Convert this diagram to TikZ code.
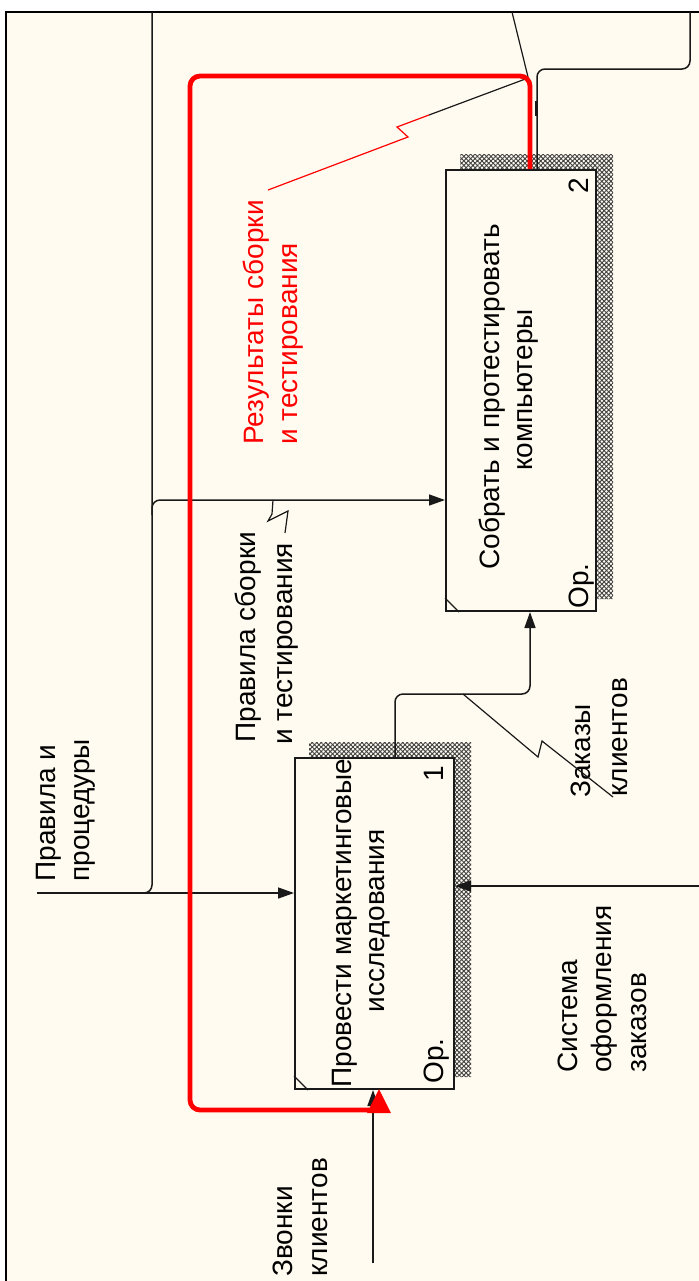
\documentclass[tikz,border=0pt]{standalone}
\usepackage{fontspec}
\setmainfont{Liberation Sans}
\usetikzlibrary{arrows.meta,patterns.meta,calc}
\definecolor{paper}{RGB}{255,251,240}
\definecolor{ink}{RGB}{25,25,25}
\tikzset{
  lbltext/.style={rotate=90, inner sep=0pt, font=\fontsize{14}{16}\selectfont},
  actbox/.style={draw=ink, line width=1pt, fill=paper, inner sep=0pt},
  shadowfill/.style={pattern={Hatch[angle=45,distance=1.6pt,line width=0.45pt]}, pattern color=black!75},
  flow/.style={draw=ink, line width=0.75pt, rounded corners=4pt},
  flowtip/.style={flow, -{Triangle[length=8pt,width=5.5pt]}},
  feedback/.style={draw=red, line width=2.4pt, rounded corners=5pt},
  leader/.style={draw=ink, line width=0.6pt},
  redleader/.style={draw=red, line width=0.6pt}
}
\begin{document}
\begin{tikzpicture}[x=0.5pt,y=-0.5pt]
\useasboundingbox (0,0) rectangle (699,1281);
\fill[white] (0,0) rectangle (699,1281);
\fill[paper] (6,12) rectangle (699,1281);
\draw[black, line width=1.4pt] (6,1281) -- (6,12) -- (699,12);

% activity boxes
\node[actbox, minimum width=79.5pt, minimum height=165.5pt] (box1) at (374.5,923.5) {};
\node[actbox, minimum width=75pt, minimum height=220.5pt] (box2) at (521,390.5) {};

% hatched shadows
\foreach \b in {box1,box2}{
  \fill[shadowfill] ($(\b.north west)+(15,-15)$) -- ($(\b.north east)+(16,-15)$)
    -- ($(\b.south east)+(16,-13)$) -- ($(\b.south east)+(0,-13)$)
    -- (\b.north east) -- ($(\b.north west)+(15,0)$) -- cycle;
  \draw[ink, line width=0.6pt] ($(\b.south west)+(0,-14)$) -- ($(\b.south west)+(14,0)$);
}

% box texts
\node[lbltext, anchor=base] (t1a) at (351,923) {Провести маркетинговые};
\node[lbltext, anchor=base] (t1b) at (384,921) {исследования};
\node[lbltext, anchor=base east] (n1) at (443,766) {1};
\node[lbltext, anchor=base west] (r1) at (443,1084) {Ор.};
\node[lbltext, anchor=base] (t2a) at (499,397) {Собрать и протестировать};
\node[lbltext, anchor=base] (t2b) at (532,390) {компьютеры};
\node[lbltext, anchor=base east] (n2) at (588,178) {2};
\node[lbltext, anchor=base west] (r2) at (588,609) {Ор.};

% arrow labels
\node[lbltext, anchor=base west] (ctlA1) at (55,882) {Правила и};
\node[lbltext, anchor=base west] (ctlA2) at (89,882) {процедуры};
\node[lbltext, anchor=base west] (ctlB1) at (255,743) {Правила сборки};
\node[lbltext, anchor=base west] (ctlB2) at (292,745) {и тестирования};
\node[lbltext, anchor=base west, text=red] (outB1) at (263,445) {Результаты сборки};
\node[lbltext, anchor=base west, text=red] (outB2) at (297,445) {и тестирования};
\node[lbltext, anchor=base west] (inB1) at (590,798) {Заказы};
\node[lbltext, anchor=base west] (inB2) at (627,797) {клиентов};
\node[lbltext, anchor=base west] (inA1) at (292,1277) {Звонки};
\node[lbltext, anchor=base west] (inA2) at (327,1277) {клиентов};
\node[lbltext, anchor=base west] (mA1) at (577,1073) {Система};
\node[lbltext, anchor=base west] (mA2) at (611,1073) {оформления};
\node[lbltext, anchor=base west] (mA3) at (646,1073) {заказов};

% control: rules and procedures, with its branch to the second box
\coordinate (ctlsrc) at (37,893);
\coordinate (brjoin) at (152,893);
\coordinate (brtop) at (152,12);
\coordinate (ctl2) at (152,500);
\draw[flowtip] (ctlsrc) -- (box1.west |- ctlsrc);
\draw[flow] (138,893) -- (brjoin) -- (brtop);
\draw[flowtip] (152,515) -- (ctl2) -- (box2.west |- ctl2);

% output of box 2 leaving the sheet
\coordinate (o2bend) at (537,69);
\coordinate (o2turn) at (690,69);
\coordinate (o2end) at (690,12);
\draw[flow] (box2.north -| o2bend) -- (o2bend) -- (o2turn) -- (o2end);
\draw[ink, line width=1.3pt] (536,101) -- (536,116);

% box 1 output feeding box 2
\coordinate (o1a) at (395,694);
\coordinate (o1b) at (530,694);
\draw[flowtip] (box1.north -| o1a) -- (o1a) -- (o1b) -- (box2.south -| o1b);

% mechanism
\coordinate (mechsrc) at (699,886);
\draw[flowtip] (mechsrc) -- (box1.east |- mechsrc);

% input: client calls
\coordinate (in1src) at (373,1263);
\draw[flowtip] (in1src) -- (box1.south -| in1src);

% leaders
\draw[leader] (512,12) -- (528,77);
\draw[leader] (528,78) -- (429,115);
\draw[redleader] (429,115) -- (397,127) -- (408,137) -- (268,190);
\draw[leader] (463,694) -- (538,757) -- (542,741) -- (613,797);
\draw[leader] (ctl2 -| 273,0) -- (272,514) -- (268,521) -- (288,511) -- (285,533);

% feedback loop (red)
\coordinate (fbA) at (530,76);
\coordinate (fbB) at (190,76);
\coordinate (fbC) at (190,1110);
\coordinate (fbD) at (379,1110);
\coordinate (fbtip) at (379,1089);
\draw[feedback] (box2.north -| fbA) -- (fbA) -- (fbB) -- (fbC) -- (fbD);
\fill[red] ($(fbtip)+(-12,24)$) -- ($(fbtip)+(12,24)$) -- (fbtip) -- cycle;
\end{tikzpicture}
\end{document}
